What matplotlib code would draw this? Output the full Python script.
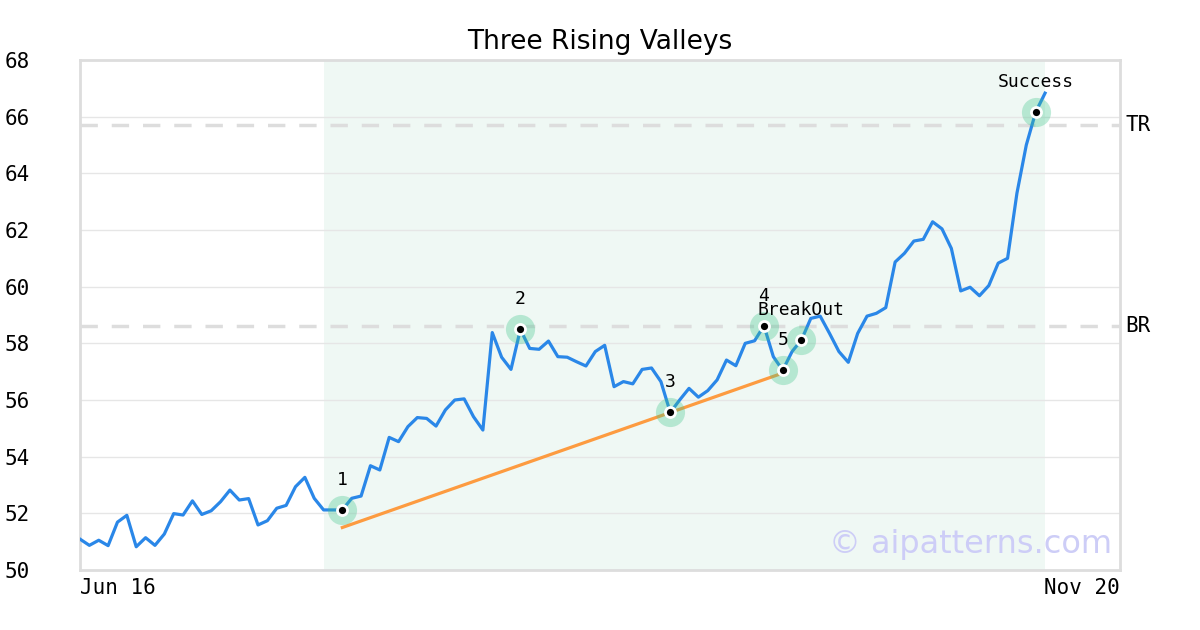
import numpy as np
import matplotlib.pyplot as plt

# daily closes (trading days from Jun 16 onward)
prices = [51.09, 50.87, 51.05, 50.86, 51.69, 51.93, 50.82, 51.14, 50.87, 51.27,
          51.99, 51.94, 52.44, 51.96, 52.09, 52.41, 52.82, 52.47, 52.52, 51.59,
          51.74, 52.18, 52.28, 52.94, 53.27, 52.53, 52.12, 52.12, 52.12, 52.53,
          52.61, 53.68, 53.53, 54.68, 54.53, 55.06, 55.38, 55.35, 55.08, 55.65,
          56.00, 56.04, 55.41, 54.94, 58.38, 57.51, 57.08, 58.49, 57.82, 57.79,
          58.08, 57.53, 57.51, 57.35, 57.20, 57.71, 57.93, 56.47, 56.65, 56.57,
          57.08, 57.13, 56.65, 55.56, 56.00, 56.41, 56.10, 56.33, 56.71, 57.41,
          57.21, 58.00, 58.09, 58.62, 57.53, 57.05, 57.71, 58.12, 58.88, 58.96,
          58.35, 57.71, 57.33, 58.35, 58.96, 59.06, 59.26, 60.87, 61.18, 61.61,
          61.67, 62.29, 62.04, 61.35, 59.85, 59.98, 59.68, 60.04, 60.83, 61.00,
          63.30, 65.00, 66.16, 66.83]

# pattern points
pt_idx = [28, 47, 63, 73, 75, 77, 102]
pt_labels = ["1", "2", "3", "4", "5", "BreakOut", "Success"]

# support trend line (valley 1 -> valley 5)
trend_idx = [28, 75]
trend_val = [51.5, 56.95]

br_level = 58.61
tr_level = 65.70
pattern_span = (26, 103)
n_days = 111
date_labels = ["Jun 16", "Nov 20"]

mono = "DejaVu Sans Mono"

fig = plt.figure(figsize=(12, 6.3), dpi=100)
ax = fig.add_axes([80 / 1200, 60 / 630, 1040 / 1200, 510 / 630])

x = np.arange(len(prices))
p = np.array(prices)

ax.axvspan(pattern_span[0], pattern_span[1], color="#eff8f4", zorder=0, lw=0)
ax.grid(axis="y", color="#e6e6e6", lw=1, zorder=1)
ax.grid(axis="x", visible=False)

ax.axhline(br_level, color="#dddddd", lw=2.5, ls=(0, (5, 4)), zorder=2)
ax.axhline(tr_level, color="#dddddd", lw=2.5, ls=(0, (5, 4)), zorder=2)

ax.plot(x, p, color="#2a87e8", lw=2.3, zorder=3)
ax.plot(trend_idx, trend_val, color="#fd9b40", lw=2.3, zorder=3)

# markers: translucent green halo, white ring, black dot
px = x[pt_idx]
py = p[pt_idx]
ax.scatter(px, py, s=440, color="#3cc48a", alpha=0.32, lw=0, zorder=4)
ax.scatter(px, py, s=85, color="white", lw=0, zorder=5)
ax.scatter(px, py, s=27, color="black", lw=0, zorder=6)

for xi, yi, lab in zip(px, py, pt_labels):
    ax.annotate(lab, (xi, yi), xytext=(0, 21.6), textcoords="offset points",
                ha="center", va="center", fontsize=13, family=mono, zorder=7)

ax.set_xlim(0, n_days)
ax.set_ylim(50, 68)
ax.set_yticks(np.arange(50, 69, 2))
ax.set_yticklabels([str(v) for v in range(50, 69, 2)], family=mono, fontsize=15)
ax.set_xticks([0, n_days])
xl = ax.set_xticklabels(date_labels, family=mono, fontsize=15)
xl[0].set_ha("left")
xl[1].set_ha("right")
ax.tick_params(axis="y", length=0, pad=36)
ax.tick_params(axis="x", length=0, pad=6)

for s in ax.spines.values():
    s.set_color("#dddddd")
    s.set_linewidth(2)

ax.text(1.005, br_level, "BR", transform=ax.get_yaxis_transform(),
        ha="left", va="center", fontsize=15, family=mono)
ax.text(1.005, tr_level, "TR", transform=ax.get_yaxis_transform(),
        ha="left", va="center", fontsize=15, family=mono)

ax.text(0.9925, 0.02, "\u00a9 aipatterns.com", transform=ax.transAxes,
        ha="right", va="bottom", fontsize=23, color="#cdcdf7", zorder=8)

ax.set_title("Three Rising Valleys", fontsize=19, pad=8)

fig.savefig("out.png", dpi=100)
